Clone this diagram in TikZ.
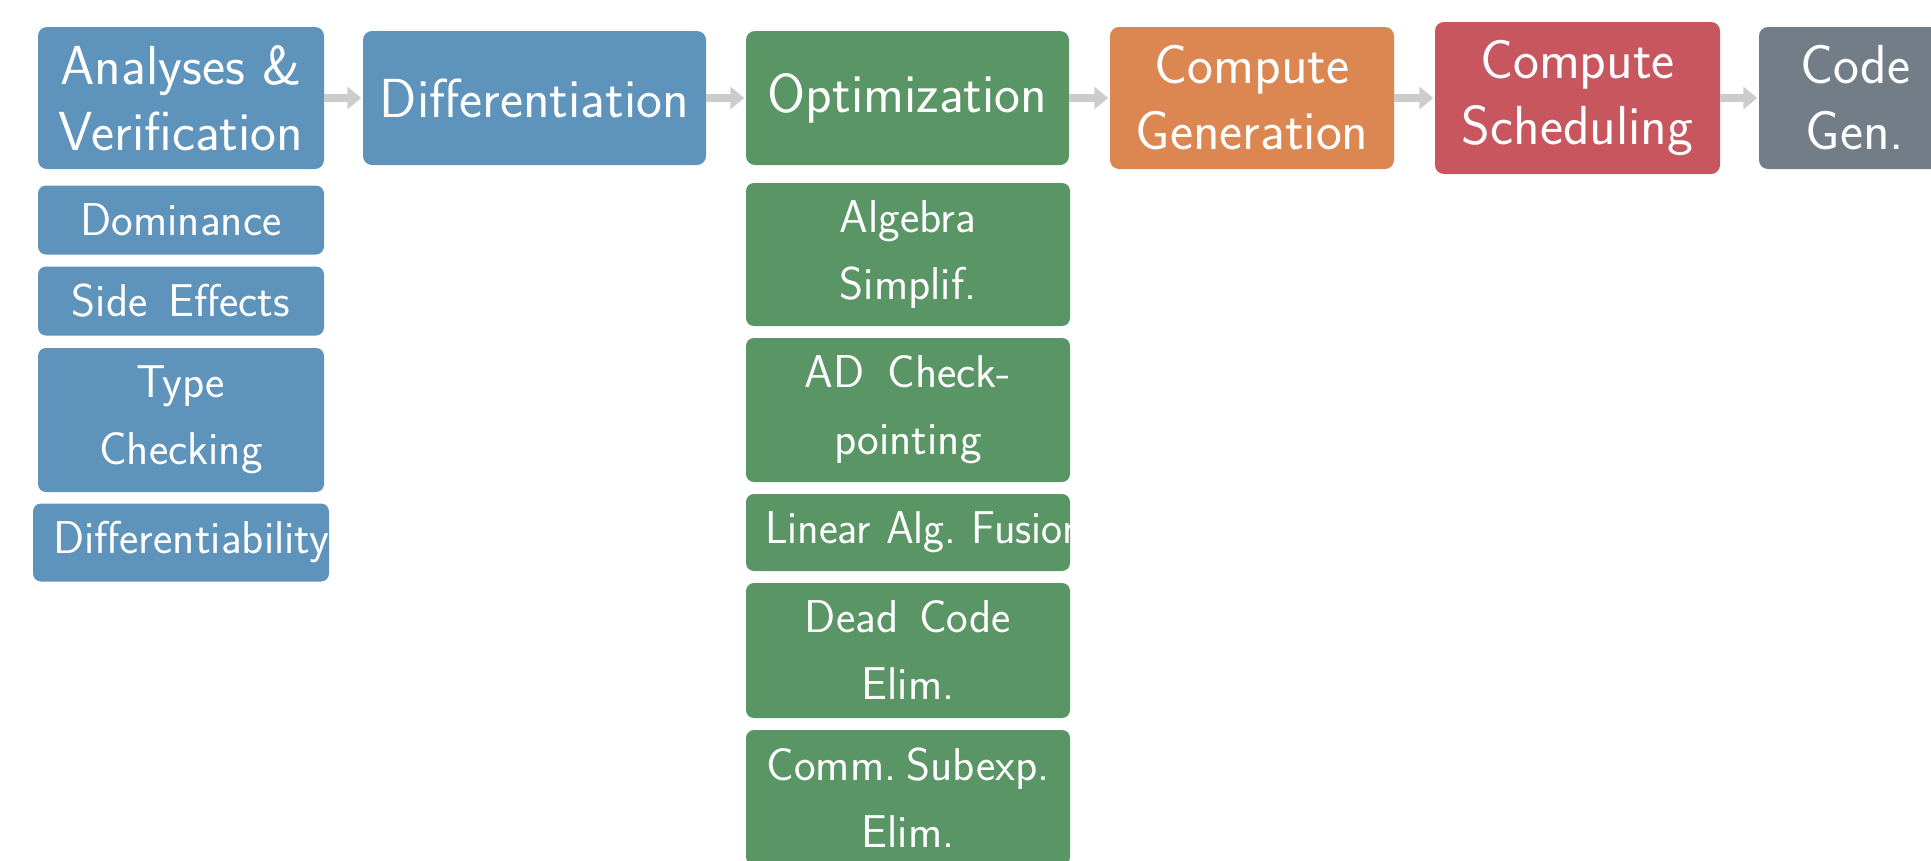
\documentclass[tikz,border=0pt]{standalone}
\usepackage{graphicx}
\usetikzlibrary{arrows.meta}
\definecolor{cblue}{HTML}{5E93BC}
\definecolor{cgreen}{HTML}{5A9566}
\definecolor{corange}{HTML}{DC8752}
\definecolor{cred}{HTML}{C8565F}
\definecolor{cgray}{HTML}{737D87}
\definecolor{carrow}{HTML}{CCCCCC}
\begin{document}
\begin{tikzpicture}[x=1pt,y=-1pt,
  box/.style={rounded corners=9pt, text=white, align=center, inner sep=0pt,
    font=\sffamily\fontsize{55}{66}\selectfont},
  sub/.style={box, rounded corners=8pt, font=\sffamily\fontsize{46}{67}\selectfont},
  flow/.style={draw=carrow, line width=8pt, -{Triangle[width=22pt,length=14pt]}, shorten >=1.5pt}]
\useasboundingbox (0,0) rectangle (1931,860);
% top row
\node[box, fill=cblue, minimum width=286pt, minimum height=142pt] (av) at (181,98) {Analyses \&\\Verification};
\node[box, fill=cblue, minimum width=343pt, minimum height=134pt] (diff) at (534.5,98) {Differentiation};
\node[box, fill=cgreen, minimum width=323pt, minimum height=134pt] (opt) at (907.5,98) {Optimization};
\node[box, fill=corange, minimum width=284pt, minimum height=142pt] (cg) at (1252,98) {Compute\\Generation};
\node[box, fill=cred, minimum width=285pt, minimum height=152pt] (cs) at (1577.5,98) {Compute\\Scheduling};
\node[box, fill=cgray, minimum width=192pt, minimum height=142pt] (code) at (1855,98) {Code\\Gen.};
% arrows
\draw[flow] (av.east) -- (diff.west);
\draw[flow] (diff.east) -- (opt.west);
\draw[flow] (opt.east) -- (cg.west);
\draw[flow] (cg.east) -- (cs.west);
\draw[flow] (cs.east) -- (code.west);
% analyses column
\node[sub, fill=cblue, minimum width=286pt, minimum height=69pt] (dom) at (181,220) {Dominance};
\node[sub, fill=cblue, minimum width=286pt, minimum height=69pt] (se) at (181,301) {Side\hspace{0.45em}Effects};
\node[sub, fill=cblue, minimum width=286pt, minimum height=144pt] (tc) at (181,420) {Type\\Checking};
\node[sub, fill=cblue, minimum height=78pt, text width=256pt, align=left, inner xsep=20pt] (dfb) at (181,542.5) {Differentiability};
% optimization column
\node[sub, fill=cgreen, minimum width=324pt, minimum height=143pt] (alg) at (908,254.5) {Algebra\\Simplif.};
\node[sub, fill=cgreen, minimum width=324pt, minimum height=144pt] (adc) at (908,410) {AD\hspace{0.5em}Check-\\pointing};
\node[sub, fill=cgreen, minimum height=77pt, text width=286pt, align=left, inner xsep=19pt] (lin) at (908,532.5) {\scalebox{0.97}[1]{Linear Alg.\ Fusion}};
\node[sub, fill=cgreen, minimum width=324pt, minimum height=135pt] (dce) at (908,650.5) {Dead\hspace{0.45em}Code\\Elim.};
\node[sub, fill=cgreen, minimum width=324pt, minimum height=135pt] (cse) at (908,797.5) {Comm.\hspace{0.22em}Subexp.\\Elim.};
\end{tikzpicture}
\end{document}
